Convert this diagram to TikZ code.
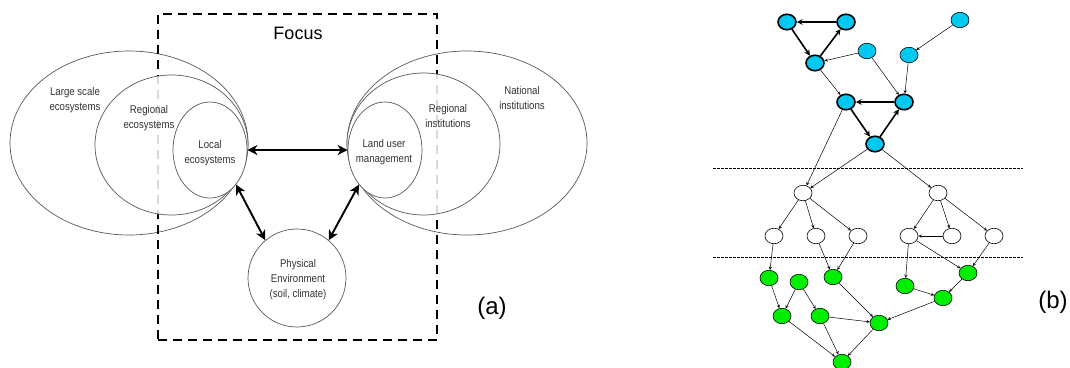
\documentclass[tikz,border=0pt]{standalone}
\usepackage{fontspec}
\setmainfont{Liberation Sans}
\newfontfamily\narrowfont[FakeStretch=0.86]{Liberation Sans}
\usepackage{xcolor}
\usetikzlibrary{shapes,arrows,arrows.meta}

\definecolor{nodeblue}{RGB}{0,200,240}
\definecolor{nodegreen}{RGB}{0,238,0}

\begin{document}
\begin{tikzpicture}[x=1pt, y=-1pt,
    ring/.style={ellipse, draw=black!65, line width=0.7pt, inner sep=0pt},
    lbl/.style={font=\narrowfont\fontsize{11.2}{15}\selectfont, align=center, text=black!80, inner sep=0pt},
    tag/.style={font=\fontsize{24}{24}\selectfont, inner sep=0pt},
    duo/.style={{Stealth[length=10pt,width=10pt,inset=3pt]}-{Stealth[length=10pt,width=10pt,inset=3pt]}, line width=1.9pt},
    gnode/.style={ellipse, draw, line width=0.6pt, minimum width=18pt, minimum height=15.5pt, inner sep=0pt},
    bnode/.style={gnode, fill=nodeblue},
    bcyc/.style={bnode, line width=1.6pt},
    wnode/.style={gnode, fill=white},
    grnode/.style={gnode, fill=nodegreen},
    link/.style={->, line width=0.5pt, >=stealth},
    cyc/.style={->, line width=1.6pt, >=stealth},
    sepline/.style={dash pattern=on 2.5pt off 1.5pt, line width=0.6pt}]
  \useasboundingbox (0,0) rectangle (1070,367);

  % (a) scales of ecosystems and institutions
  \node[ring, fill=white, minimum width=238pt, minimum height=184pt] (large) at (129,143) {};
  \node[ring, fill=white, minimum width=240pt, minimum height=184pt] (natl) at (467,143) {};
  \node[draw, line width=2pt, dash pattern=on 9pt off 6pt, minimum width=279pt, minimum height=326pt] (focusbox) at (297.5,177) {};
  \node[ring, fill=white, fill opacity=0.85, minimum width=153pt, minimum height=140pt] (regeco) at (171.5,145) {};
  \node[ring, fill=white, fill opacity=0.85, minimum width=153pt, minimum height=142pt] (reginst) at (423.5,144) {};
  \node[ring, fill=white, minimum width=74pt, minimum height=96pt] (local) at (210,150) {};
  \node[ring, fill=white, minimum width=74pt, minimum height=96pt] (land) at (385,150) {};
  \node[ring, fill=white, minimum width=98pt, minimum height=98pt] (phys) at (297,278) {};

  \node[font=\fontsize{18}{18}\selectfont, inner sep=0pt] (focus) at (298,33) {Focus};
  \node[lbl] (largetxt) at (75,100) {Large scale\\ecosystems};
  \node[lbl] (regecotxt) at (149,118) {Regional\\ecosystems};
  \node[lbl] (localtxt) at (210,153) {Local\\ecosystems};
  \node[lbl] (landtxt) at (384,152) {Land user\\management};
  \node[lbl] (reginsttxt) at (448,116) {Regional\\institutions};
  \node[lbl] (natltxt) at (522,98) {National\\institutions};
  \node[lbl] (phystxt) at (298,280) {Physical\\Environment\\(soil, climate)};
  \node[tag] (taga) at (492,308) {(a)};

  \draw[duo] (local.east) -- (land.west);
  \draw[duo] (local.-53) -- (phys.130);
  \draw[duo] (land.-127) -- (phys.50);

  % (b) network of dependencies
  \node[bcyc]  (b1) at (787,22) {};
  \node[bcyc]  (b2) at (846,22) {};
  \node[bcyc]  (b3) at (815,63) {};
  \node[bnode] (b4) at (867,51) {};
  \node[bnode] (b5) at (960,20) {};
  \node[bnode] (b6) at (909,55) {};
  \node[bcyc]  (b7) at (846,102) {};
  \node[bcyc]  (b8) at (904,102) {};
  \node[bcyc]  (b9) at (875,144) {};

  \node[wnode] (w1) at (803,193) {};
  \node[wnode] (w2) at (938,193) {};
  \node[wnode] (w3) at (774,236) {};
  \node[wnode] (w4) at (816,236) {};
  \node[wnode] (w5) at (858,236) {};
  \node[wnode] (w6) at (909,236) {};
  \node[wnode] (w7) at (952,236) {};
  \node[wnode] (w8) at (994,236) {};

  \node[grnode] (g1) at (769,278) {};
  \node[grnode] (g2) at (799,282) {};
  \node[grnode] (g3) at (833,277) {};
  \node[grnode] (g4) at (905,286) {};
  \node[grnode] (g5) at (968,273) {};
  \node[grnode] (g6) at (782,316) {};
  \node[grnode] (g7) at (820,316) {};
  \node[grnode] (g8) at (879,323) {};
  \node[grnode] (g9) at (943,298) {};
  \node[grnode] (g10) at (842,362) {};

  \coordinate (s1a) at (713,168);
  \coordinate (s1b) at (1023,168);
  \coordinate (s2a) at (713,257);
  \coordinate (s2b) at (1023,257);
  \draw[sepline] (s1a) -- (s1b);
  \draw[sepline] (s2a) -- (s2b);

  \draw[cyc] (b2) -- (b1);
  \draw[cyc] (b1) -- (b3);
  \draw[cyc] (b3) -- (b2);
  \draw[cyc] (b8) -- (b7);
  \draw[cyc] (b7) -- (b9);
  \draw[cyc] (b9) -- (b8);

  \draw[link] (b4) -- (b3);
  \draw[link] (b5) -- (b6);
  \draw[link] (b3) -- (b7);
  \draw[link] (b4) -- (b8);
  \draw[link] (b6) -- (b8);
  \draw[link] (b7) -- (w1);
  \draw[link] (b9) -- (w1);
  \draw[link] (b9) -- (w2);
  \draw[link] (w1) -- (w3);
  \draw[link] (w1) -- (w4);
  \draw[link] (w1) -- (w5);
  \draw[link] (w2) -- (w6);
  \draw[link] (w2) -- (w7);
  \draw[link] (w2) -- (w8);
  \draw[link] (w7) -- (w6);
  \draw[link] (w3) -- (g1);
  \draw[link] (w4) -- (g3);
  \draw[link] (w5) -- (g3);
  \draw[link] (w6) -- (g4);
  \draw[link] (w6) -- (g5);
  \draw[link] (w8) -- (g5);
  \draw[link] (g1) -- (g6);
  \draw[link] (g2) -- (g6);
  \draw[link] (g2) -- (g7);
  \draw[link] (g3) -- (g8);
  \draw[link] (g7) -- (g8);
  \draw[link] (g6) -- (g10);
  \draw[link] (g7) -- (g10);
  \draw[link] (g8) -- (g10);
  \draw[link] (g4) -- (g9);
  \draw[link] (g5) -- (g9);
  \draw[link] (g9) -- (g8);

  \node[tag] (tagb) at (1053,302) {(b)};
\end{tikzpicture}
\end{document}
